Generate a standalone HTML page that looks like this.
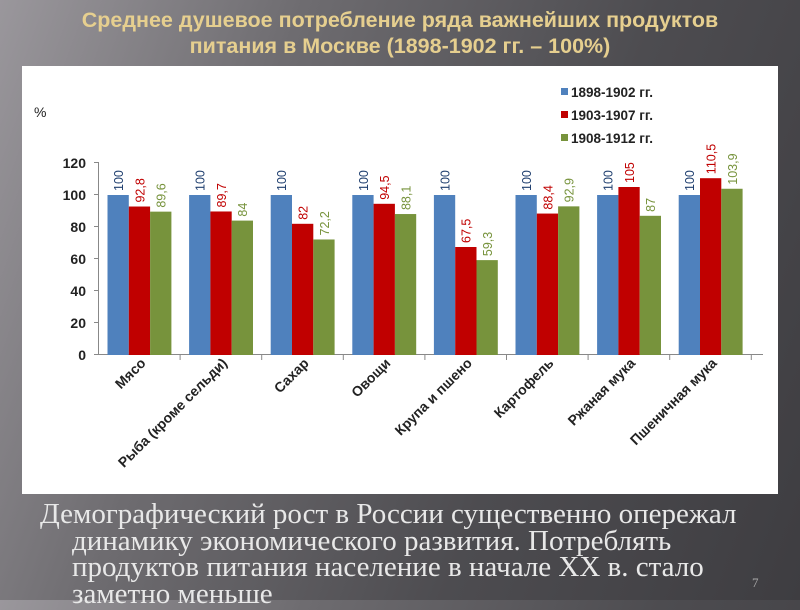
<!DOCTYPE html>
<html><head><meta charset="utf-8"><style>
body{margin:0;width:800px;height:600px;overflow:hidden;background:linear-gradient(110deg,#9a979c 0%,#6e6c70 30%,#4d4c50 65%,#3e3d41 100%);font-family:"Liberation Sans",sans-serif;position:relative}
.t{position:absolute;left:0;width:800px;top:7px;text-align:center;color:#e6cf8f;font-weight:bold;font-size:21.5px;line-height:26px;font-family:"Liberation Sans",sans-serif}
.b{position:absolute;left:40px;top:501px;color:#e8e8e8;font-family:"Liberation Serif",serif;font-size:29px;line-height:26.5px;width:760px;white-space:nowrap}
.b div{padding-left:32px}
.n{position:absolute;left:752px;top:575px;color:#aaa;font-family:"Liberation Serif",serif;font-size:13px}
</style></head><body>
<div class="t">Среднее душевое потребление ряда важнейших продуктов<br>питания в Москве (1898-1902 гг. – 100%)</div>
<svg style="position:absolute;left:0;top:0" width="800" height="600" font-family="Liberation Sans, sans-serif">
<rect x="22" y="66" width="756" height="428" fill="#fff"/>
<text x="34" y="117" font-size="14" fill="#222">%</text>
<g font-size="14" fill="#222" text-anchor="end" font-weight="bold">
<text x="86" y="360">0</text><text x="86" y="328">20</text><text x="86" y="296">40</text><text x="86" y="264">60</text><text x="86" y="232">80</text><text x="86" y="200">100</text><text x="86" y="168">120</text>
</g>
<g stroke="#888" stroke-width="1">
<line x1="98.5" y1="162" x2="98.5" y2="355"/>
<line x1="94" y1="162.5" x2="98" y2="162.5"/><line x1="94" y1="194.5" x2="98" y2="194.5"/><line x1="94" y1="226.5" x2="98" y2="226.5"/><line x1="94" y1="258.5" x2="98" y2="258.5"/><line x1="94" y1="290.5" x2="98" y2="290.5"/><line x1="94" y1="322.5" x2="98" y2="322.5"/>
<line x1="94" y1="354.5" x2="763" y2="354.5"/>
</g>
<g id="bars"></g>
<g font-size="13.5" fill="#222" font-weight="bold">
<rect x="561" y="88" width="7" height="7" fill="#4f81bd"/><text x="571" y="97">1898-1902 гг.</text>
<rect x="561" y="111" width="7" height="7" fill="#c00000"/><text x="571" y="120">1903-1907 гг.</text>
<rect x="561" y="134" width="7" height="7" fill="#77933c"/><text x="571" y="143">1908-1912 гг.</text>
</g>
</svg>
<div class="b">Демографический рост в России существенно опережал<div>динамику экономического развития. Потреблять</div><div>продуктов питания население в начале XX в. стало</div><div>заметно меньше</div></div>
<div class="n">7</div>
<script>
var d=[["Мясо",100,92.8,89.6],["Рыба (кроме сельди)",100,89.7,84],["Сахар",100,82,72.2],["Овощи",100,94.5,88.1],["Крупа и пшено",100,67.5,59.3],["Картофель",100,88.4,92.9],["Ржаная мука",100,105,87],["Пшеничная мука",100,110.5,103.9]];
var c=["#4f81bd","#c00000","#77933c"],lc=["#1f3f6f","#c00000","#77933c"],s="";
d.forEach(function(r,i){var x0=98.5+i*81.6;
s+='<line x1="'+(x0+81.6)+'" y1="355" x2="'+(x0+81.6)+'" y2="360" stroke="#888"/>';
for(var k=0;k<3;k++){var v=r[k+1],h=v*1.6,x=x0+9+k*21.3,y=355-h;
s+='<rect x="'+x+'" y="'+y+'" width="21.3" height="'+h+'" fill="'+c[k]+'"/>';
var tx=x+15.5,ty=y-4;s+='<text x="'+tx+'" y="'+ty+'" transform="rotate(-90 '+tx+' '+ty+')" font-size="12.5" fill="'+lc[k]+'">'+(""+v).replace(".",",")+'</text>';}
var cx=x0+48,cy=364;
s+='<text x="'+cx+'" y="'+cy+'" transform="rotate(-45 '+cx+' '+cy+')" text-anchor="end" font-size="14" font-weight="bold" fill="#222">'+r[0]+'</text>';});
document.getElementById("bars").innerHTML=s;
</script>
</body></html>
